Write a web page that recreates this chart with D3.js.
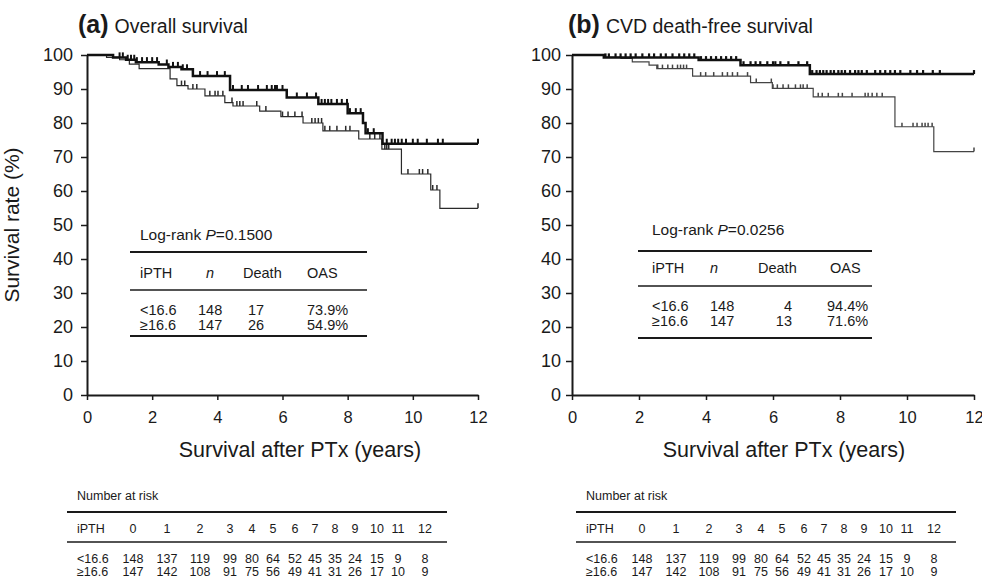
<!DOCTYPE html>
<html><head><meta charset="utf-8">
<script src="https://cdn.jsdelivr.net/npm/d3@7/dist/d3.min.js"></script>
<style>body{margin:0;background:#fff} svg{display:block;font-family:"Liberation Sans",Arial,sans-serif}</style>
</head><body>
<svg id="c" width="982" height="581"></svg>
<script>
// ---------- data ----------
const timeTicks = [0, 2, 4, 6, 8, 10, 12];
const rateTicks = [0, 10, 20, 30, 40, 50, 60, 70, 80, 90, 100];
const groups = ["<16.6", "≥16.6"];
const riskYears = ["0","1","2","3","4","5","6","7","8","9","10","11","12"];
const riskLow  = [148, 137, 119, 99, 80, 64, 52, 45, 35, 24, 15, 9, 8];
const riskHigh = [147, 142, 108, 91, 75, 56, 49, 41, 31, 26, 17, 10, 9];

// (a) overall survival: [time, survival %] after each event
const osLowSteps  = [[0,100],[0.8,99.3],[1.2,98.6],[1.5,97.9],[2.2,97.2],[2.5,96.5],[2.9,95.8],[3.25,93.8],[4.39,89.7],[6.13,87.5],[7.1,85.6],[8.0,82.9],[8.47,80.0],[8.55,77.0],[9.07,73.9]];
const osHighSteps = [[0,100],[0.6,99.3],[1.0,98.6],[1.3,97.3],[1.6,96.0],[2.55,93.0],[2.76,91.0],[3.1,90.0],[3.62,88.0],[4.23,86.0],[4.48,85.0],[5.3,83.5],[5.95,81.9],[6.63,80.0],[7.24,77.7],[8.34,75.3],[9.05,72.3],[9.65,65.0],[10.55,60.3],[10.83,54.9]];
const osLowCens  = [1.0,1.1,1.25,1.35,1.45,1.53,1.69,1.84,2.0,2.15,2.45,2.64,2.79,2.94,3.07,3.47,3.7,3.99,4.23,4.48,4.75,4.94,5.25,5.52,5.67,5.77,5.83,6.0,6.44,6.75,7.03,7.2,7.3,7.4,7.5,7.67,7.82,7.98,8.07,8.25,8.4,8.62,8.8,9.2,9.35,9.45,9.55,9.66,9.79,10.0,10.15,10.43,10.77,10.92,12.0];
const osHighCens = [2.9,3.0,3.25,3.37,3.77,3.93,4.02,4.17,4.45,4.6,4.69,4.79,5.21,5.49,6.0,6.17,6.38,6.6,6.9,7.0,7.1,7.2,7.3,7.45,7.67,7.94,8.07,8.68,8.83,8.99,9.14,9.2,9.26,9.85,10.2,10.3,10.46,10.61,10.74,12.0];

// (b) CVD death-free survival
const cvdLowSteps  = [[0,100],[0.95,99.3],[3.78,98.5],[5.03,97.0],[7.1,94.4]];
const cvdHighSteps = [[0,100],[0.95,99.3],[1.46,99.0],[1.8,98.0],[2.3,97.0],[2.53,96.0],[3.6,93.8],[5.33,91.9],[5.98,90.2],[7.2,87.7],[9.64,78.9],[10.8,71.6]];
const cvdLowCens  = [1.0,1.1,1.3,1.45,1.6,1.75,1.9,2.1,2.3,2.45,2.65,2.8,3.0,3.2,3.35,3.5,3.65,3.85,4.0,4.15,4.3,4.45,4.6,4.75,4.9,5.12,5.33,5.48,5.62,5.83,6.0,6.07,6.22,6.46,6.76,7.02,7.17,7.3,7.4,7.5,7.6,7.72,7.82,7.95,8.05,8.15,8.3,8.45,8.55,8.65,8.8,9.05,9.2,9.35,9.5,9.64,9.8,10.1,10.3,10.48,10.77,10.98,12.0];
const cvdHighCens = [2.56,2.7,2.86,3.0,3.15,3.24,3.33,3.42,3.84,3.99,4.23,4.49,4.64,4.79,4.94,5.24,5.5,5.95,6.0,6.13,6.3,6.46,6.67,6.82,6.9,7.02,7.35,7.47,7.65,7.95,8.07,8.36,8.75,8.84,8.96,9.1,9.26,9.85,10.18,10.3,10.45,10.54,10.63,10.75,12.0];

const statsA = {p: "0.1500", n: [148, 147], death: [17, 26], oas: ["73.9%", "54.9%"]};
const statsB = {p: "0.0256", n: [148, 147], death: [4, 13], oas: ["94.4%", "71.6%"]};

// ---------- drawing ----------
const svg = d3.select("#c");
const ink = "#1a1a1a";

function survAt(steps, t) {
  let s = steps[0][1];
  for (const [tt, v] of steps) if (tt <= t) s = v;
  return s;
}

function panel(cfg) {
  const x = d3.scaleLinear().domain([0, 12]).range([cfg.x0, cfg.x1]);
  const y = d3.scaleLinear().domain([0, 100]).range([395, 55]);

  const xa = svg.append("g").attr("transform", "translate(0,395)")
    .call(d3.axisBottom(x).tickValues(timeTicks).tickSize(5).tickPadding(11).tickSizeOuter(0));
  const ya = svg.append("g").attr("transform", `translate(${cfg.x0},0)`)
    .call(d3.axisLeft(y).tickValues(rateTicks).tickSize(6).tickPadding(cfg.ypad).tickSizeOuter(0));
  [xa, ya].forEach(a => {
    a.select(".domain").attr("stroke", ink).attr("stroke-width", 2);
    a.selectAll(".tick line").attr("stroke", ink).attr("stroke-width", 1.5);
    a.selectAll(".tick text").attr("fill", ink)
      .attr("font-family", '"Liberation Sans",Arial,sans-serif');
  });
  xa.selectAll(".tick text").attr("font-size", 16.5);
  ya.selectAll(".tick text").attr("font-size", 18);

  const line = d3.line().x(d => x(d[0])).y(d => y(d[1])).curve(d3.curveStepAfter);
  cfg.curves.forEach(c => {
    const pts = c.steps.concat([[12, c.steps[c.steps.length - 1][1]]]);
    svg.append("path").attr("d", line(pts)).attr("fill", "none")
      .attr("stroke", c.color).attr("stroke-width", c.w);
    svg.append("g").selectAll("line").data(c.cens).join("line")
      .attr("x1", d => x(d)).attr("x2", d => x(d))
      .attr("y1", d => y(survAt(c.steps, d))).attr("y2", d => y(survAt(c.steps, d)) - c.tick)
      .attr("stroke", c.color).attr("stroke-width", c.tw);
  });

  svg.append("text").attr("x", cfg.labelX).attr("y", 457)
    .attr("text-anchor", "middle").attr("font-size", 21.5).attr("fill", ink)
    .text("Survival after PTx (years)");

  const t = svg.append("text").attr("x", cfg.titleX).attr("y", 33).attr("fill", ink);
  t.append("tspan").attr("font-weight", "bold").attr("font-size", 25).text(cfg.tag);
  t.append("tspan").attr("font-size", 19.5).attr("dx", 6).text(cfg.title);
}

function statTable(cfg, st) {
  const g = svg.append("g").attr("fill", ink).attr("font-size", 14.5);
  const lr = g.append("text").attr("x", cfg.tx).attr("y", cfg.lrY).attr("font-size", 15.5);
  lr.append("tspan").text("Log-rank ");
  lr.append("tspan").attr("font-style", "italic").text("P");
  lr.append("tspan").text("=" + st.p);
  [[cfg.l1, 2], [cfg.l2, 1.3], [cfg.l3, 2]].forEach(([yy, w]) =>
    g.append("line").attr("x1", cfg.left).attr("x2", cfg.right).attr("y1", yy).attr("y2", yy)
      .attr("stroke", ink).attr("stroke-width", w));
  g.append("text").attr("x", cfg.tx).attr("y", cfg.hY).text("iPTH");
  g.append("text").attr("x", cfg.nX).attr("y", cfg.hY).attr("text-anchor", "middle").attr("font-style", "italic").text("n");
  g.append("text").attr("x", cfg.dX).attr("y", cfg.hY).text("Death");
  g.append("text").attr("x", cfg.oX).attr("y", cfg.hY).text("OAS");
  groups.forEach((gr, i) => {
    const yy = cfg.rY[i];
    g.append("text").attr("x", cfg.tx).attr("y", yy).text(gr);
    g.append("text").attr("x", cfg.nvX).attr("y", yy).text(st.n[i]);
    g.append("text").attr("x", cfg.dvX).attr("y", yy).attr("text-anchor", cfg.dAnchor).text(st.death[i]);
    g.append("text").attr("x", cfg.ovX).attr("y", yy).text(st.oas[i]);
  });
}

function riskTable(off) {
  const cols = [133, 167, 200, 230, 252, 273, 295, 315, 335, 355, 377, 398, 425];
  const g = svg.append("g").attr("fill", ink).attr("font-size", 12.5)
    .attr("transform", `translate(${off},0)`);
  g.append("text").attr("x", 77).attr("y", 500).text("Number at risk");
  [[512, 2], [542, 1.3]].forEach(([yy, w]) =>
    g.append("line").attr("x1", 67).attr("x2", 447).attr("y1", yy).attr("y2", yy)
      .attr("stroke", ink).attr("stroke-width", w));
  g.append("text").attr("x", 77).attr("y", 533).text("iPTH");
  g.selectAll(".h").data(riskYears).join("text").attr("x", (d, i) => cols[i]).attr("y", 533)
    .attr("text-anchor", "middle").text(d => d);
  g.append("text").attr("x", 77).attr("y", 563).text(groups[0]);
  g.append("text").attr("x", 77).attr("y", 576).text(groups[1]);
  g.selectAll(".r1").data(riskLow).join("text").attr("x", (d, i) => cols[i]).attr("y", 563)
    .attr("text-anchor", "middle").text(d => d);
  g.selectAll(".r2").data(riskHigh).join("text").attr("x", (d, i) => cols[i]).attr("y", 576)
    .attr("text-anchor", "middle").text(d => d);
}

panel({x0: 87, x1: 478, titleX: 78, labelX: 300, ypad: 8, tag: "(a)", title: "Overall survival",
  curves: [
    {steps: osHighSteps, cens: osHighCens, color: "#2a2a2a", w: 1.2, tw: 1.5, tick: 5},
    {steps: osLowSteps, cens: osLowCens, color: "#111", w: 2.5, tw: 2, tick: 5}
  ]});
panel({x0: 572, x1: 974, titleX: 568, labelX: 784, ypad: 5, tag: "(b)", title: "CVD death-free survival",
  curves: [
    {steps: cvdHighSteps, cens: cvdHighCens, color: "#444", w: 1.2, tw: 1.5, tick: 4},
    {steps: cvdLowSteps, cens: cvdLowCens, color: "#111", w: 2.5, tw: 2.2, tick: 4}
  ]});

svg.append("text").attr("transform", "translate(19,225) rotate(-90)")
  .attr("text-anchor", "middle").attr("font-size", 21).attr("fill", ink).text("Survival rate (%)");

statTable({left: 130, right: 367, tx: 140, lrY: 240, l1: 252, hY: 278, l2: 290, l3: 336,
  nX: 210, dX: 243, oX: 307, nvX: 198, dvX: 248, dAnchor: "start", ovX: 307, rY: [315, 330]}, statsA);
statTable({left: 638, right: 872, tx: 652, lrY: 235, l1: 251, hY: 273, l2: 286, l3: 338,
  nX: 714, dX: 758, oX: 830, nvX: 710, dvX: 792, dAnchor: "end", ovX: 827, rY: [311, 326]}, statsB);

riskTable(0);
riskTable(509);
</script>
</body></html>
